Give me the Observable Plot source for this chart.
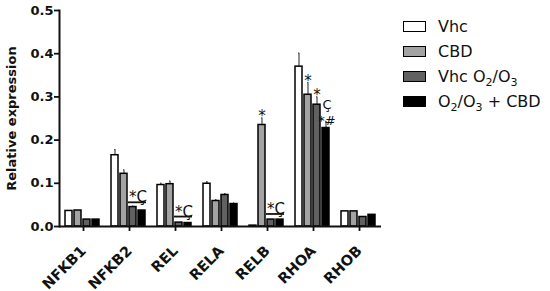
<!DOCTYPE html>
<html>
<head>
<meta charset="utf-8">
<script src="https://cdn.jsdelivr.net/npm/d3@7"></script>
<script src="https://cdn.jsdelivr.net/npm/@observablehq/plot@0.6"></script>
<style>
  html, body { margin: 0; padding: 0; background: #fff; }
  #wrap { position: relative; width: 550px; height: 291px; font-family: "DejaVu Sans", sans-serif; }
  #legend { position: absolute; left: 403px; top: 14px; font-size: 16px; color: #111; }
  .row { display: flex; align-items: center; height: 25px; }
  .sw { width: 21px; height: 9px; border: 1.6px solid #000; margin-right: 12px; }
  sub { font-size: 11px; vertical-align: -4px; line-height: 0; }
</style>
</head>
<body>
<div id="wrap"><div id="legend"></div></div>
<script>
const genes = ["NFKB1", "NFKB2", "REL", "RELA", "RELB", "RHOA", "RHOB"];
const groups = ["Vhc", "CBD", "Vhc O2/O3", "O2/O3 + CBD"];
const groupLabels = ["Vhc", "CBD", "Vhc O<sub>2</sub>/O<sub>3</sub>", "O<sub>2</sub>/O<sub>3</sub> + CBD"];
const colors = ["#ffffff", "#a3a3a3", "#616161", "#000000"];

const vhc    = [0.036, 0.165, 0.096, 0.099, 0.002, 0.370, 0.035];
const cbd    = [0.037, 0.122, 0.098, 0.059, 0.235, 0.305, 0.035];
const vhcO   = [0.016, 0.045, 0.009, 0.073, 0.016, 0.282, 0.022];
const o2Cbd  = [0.016, 0.037, 0.008, 0.052, 0.016, 0.228, 0.027];

const vhcErr   = [0.000, 0.013, 0.004, 0.005, 0.000, 0.031, 0.000];
const cbdErr   = [0.000, 0.009, 0.007, 0.003, 0.016, 0.028, 0.000];
const vhcOErr  = [0.000, 0.002, 0.000, 0.003, 0.000, 0.018, 0.000];
const o2CbdErr = [0.000, 0.000, 0.000, 0.002, 0.000, 0.015, 0.000];

const yTicks = [0, 0.1, 0.2, 0.3, 0.4, 0.5];

// significance bars over "Vhc O2/O3" and "O2/O3 + CBD"
const sigGenes = ["NFKB2", "REL", "RELB"];
const sigLevels = [0.056, 0.023, 0.029];
const sigLabel = "*Ç";

// annotations above error bars
const annoGenes = ["RELB", "RHOA", "RHOA", "RHOA"];
const annoGroups = ["CBD", "CBD", "Vhc O2/O3", "O2/O3 + CBD"];
const annoLabels = ["*", "*", "*", "Ç\n*#"];

const series = [vhc, cbd, vhcO, o2Cbd];
const errs = [vhcErr, cbdErr, vhcOErr, o2CbdErr];
const data = [];
genes.forEach((g, i) => groups.forEach((s, k) => {
  data.push({gene: g, group: s, value: series[k][i], err: errs[k][i]});
}));
const errData = data.filter(d => d.err > 0);
const lookup = (g, s) => data.find(d => d.gene === g && d.group === s);
const annos = annoGenes.map((g, i) => {
  const d = lookup(g, annoGroups[i]);
  return {gene: g, group: annoGroups[i], y: d.value + d.err, label: annoLabels[i]};
});
const annosSingle = annos.filter(a => !a.label.includes("\n"));
const annosMulti = annos.filter(a => a.label.includes("\n"));
const sigs = sigGenes.map((g, i) => ({gene: g, y: sigLevels[i], label: sigLabel}));
const sigSegs = sigs.flatMap(s => [{...s, group: groups[2]}, {...s, group: groups[3]}]);

const font = "DejaVu Sans, sans-serif";

const chart = Plot.plot({
  width: 550,
  height: 291,
  marginLeft: 57,
  marginRight: 168,
  marginTop: 10,
  marginBottom: 65,
  style: {fontFamily: font, fontWeight: "bold", fontSize: "13px", color: "#111", background: "transparent"},
  fx: {domain: genes, padding: 0, label: null, axis: null},
  x: {domain: groups, paddingInner: 0.2, paddingOuter: 0.42, axis: null},
  y: {domain: [0, 0.5], axis: null},
  color: {domain: groups, range: colors},
  marks: [
    Plot.axisFx({anchor: "bottom", label: null, tickSize: 5, tickPadding: 17, tickRotate: -45, dx: 1, fontSize: 14.5, fontWeight: "bold", strokeWidth: 1.8}),
    Plot.axisY({ticks: yTicks, tickFormat: ".1f", tickSize: 5, tickPadding: 1, fontSize: 13, fontWeight: "bold", strokeWidth: 1.8,
      label: "Relative expression", labelAnchor: "center", labelOffset: 53, labelArrow: "none"}),
    Plot.frame({anchor: "left", facetAnchor: "left", strokeWidth: 2}),
    Plot.ruleX(errData, {fx: "gene", x: "group", y1: "value", y2: d => d.value + d.err, stroke: "#555", strokeWidth: 1.3}),
    Plot.tickY(errData, {fx: "gene", x: "group", y: d => d.value + d.err, stroke: "#555", strokeWidth: 1.3, insetLeft: 3, insetRight: 3}),
    Plot.barY(data, {fx: "gene", x: "group", y: "value", fill: "group", stroke: "#000", strokeWidth: 1.5}),
    Plot.ruleY([0], {strokeWidth: 2}),
    Plot.tickY(sigSegs, {fx: "gene", x: "group", y: "y", strokeWidth: 1.8, insetLeft: -1, insetRight: -1}),
    Plot.text(sigs, {fx: "gene", x: () => groups[2], y: "y", text: "label", dx: 5, dy: 0, lineAnchor: "bottom", fontSize: 15, fontWeight: "normal", fill: "#111"}),
    Plot.text(annosSingle, {fx: "gene", x: "group", y: "y", text: "label", dy: 3, lineAnchor: "bottom", fontSize: 15, fontWeight: "normal", fill: "#111"}),
    Plot.text(annosMulti, {fx: "gene", x: "group", y: "y", text: "label", dx: 1, dy: 3, lineAnchor: "bottom", lineHeight: 1.2, fontSize: 13, fontWeight: "normal", fill: "#111"})
  ]
});
document.getElementById("wrap").appendChild(chart);
chart.style.position = "absolute";
chart.style.left = "0";
chart.style.top = "0";

const legend = document.getElementById("legend");
groups.forEach((g, k) => {
  const row = document.createElement("div");
  row.className = "row";
  row.innerHTML = `<div class="sw" style="background:${colors[k]}"></div><span>${groupLabels[k]}</span>`;
  legend.appendChild(row);
});
</script>
</body>
</html>
